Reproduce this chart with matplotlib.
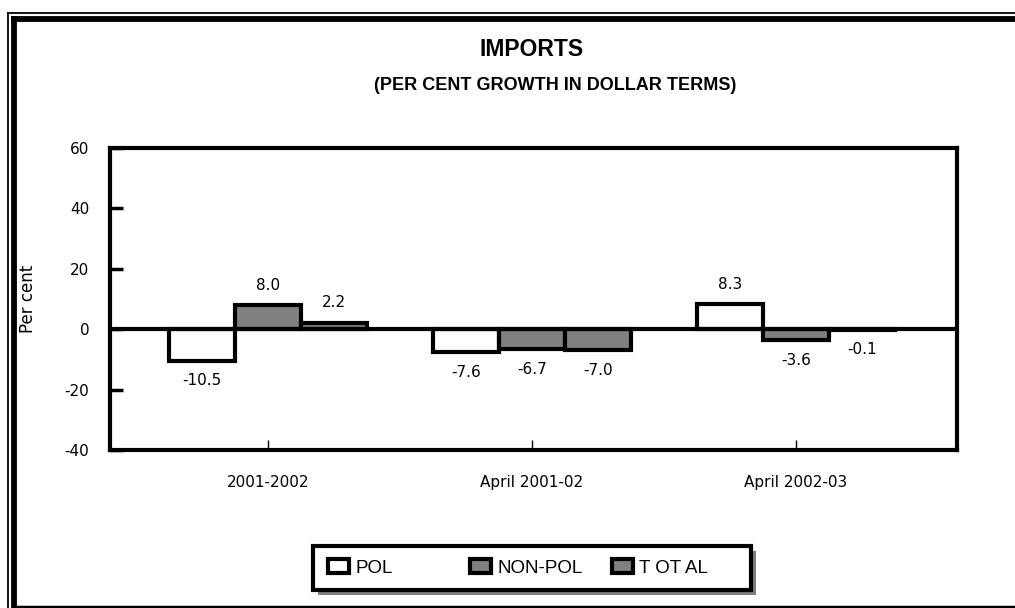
import matplotlib
matplotlib.use("Agg")
import matplotlib.pyplot as plt
from matplotlib.lines import Line2D
from matplotlib.patches import Rectangle, Patch
import numpy as np

categories = ["2001-2002", "April 2001-02", "April 2002-03"]
series_names = ["POL", "NON-POL", "T OT AL"]
pol = [-10.5, -7.6, 8.3]
nonpol = [8.0, -6.7, -3.6]
total = [2.2, -7.0, -0.1]
yticks = [-40, -20, 0, 20, 40, 60]

W, H = 1015, 608
fig = plt.figure(figsize=(W / 100, H / 100), dpi=100)

def fx(px):
    return px / W

def fy(py):
    return 1 - py / H

# outer frame (thin + thick double border)
fig.add_artist(Line2D([fx(7.8), fx(7.8)], [fy(12.8), fy(620)], color="black", lw=1.3, transform=fig.transFigure))
fig.add_artist(Line2D([fx(7.8), fx(1030)], [fy(12.8), fy(12.8)], color="black", lw=1.3, transform=fig.transFigure))
fig.add_artist(Line2D([fx(14), fx(14)], [fy(19), fy(606.5)], color="black", lw=4.2, transform=fig.transFigure, solid_capstyle="projecting"))
fig.add_artist(Line2D([fx(14), fx(1030)], [fy(19), fy(19)], color="black", lw=4.2, transform=fig.transFigure, solid_capstyle="projecting"))
fig.add_artist(Line2D([fx(14), fx(1030)], [fy(606.5), fy(606.5)], color="black", lw=2.5, transform=fig.transFigure))

ax = fig.add_axes([fx(110), fy(450), fx(957) - fx(110), (450 - 148) / H])

x = np.arange(len(categories))
w = 0.25
colors = ["white", "#808080", "#808080"]
data = [pol, nonpol, total]
handles = []
for i, (vals, c, name) in enumerate(zip(data, colors, series_names)):
    bars = ax.bar(x + (i - 1) * w, vals, w, color=c, edgecolor="black", linewidth=3, label=name, zorder=2)
    handles.append(Patch(facecolor=c, edgecolor="black", linewidth=3))
    for b, v in zip(bars, vals):
        xc = b.get_x() + b.get_width() / 2
        if v >= 0:
            ax.annotate(f"{v:.1f}", (xc, v), xytext=(0, 9), textcoords="offset points",
                        ha="center", va="bottom", fontsize=11, family="DejaVu Sans")
        else:
            ax.annotate(f"{v:.1f}", (xc, v), xytext=(0, -9), textcoords="offset points",
                        ha="center", va="top", fontsize=11, family="DejaVu Sans")

ax.axhline(0, color="black", lw=3, zorder=3)
ax.set_ylim(-40, 60)
ax.set_xlim(-0.598, 2.61)
ax.set_yticks(yticks)
ax.set_yticklabels([str(t) for t in yticks], fontsize=11, family="DejaVu Sans")
ax.set_xticks(x)
ax.set_xticklabels(categories, fontsize=11, family="DejaVu Sans")
ax.tick_params(axis="y", direction="in", length=9, width=2.5, pad=15)
ax.tick_params(axis="x", direction="in", length=7, width=1, pad=18)
for s in ax.spines.values():
    s.set_linewidth(3)
ax.set_ylabel("Per cent", fontsize=12, family="DejaVu Sans")
ax.yaxis.set_label_coords(-0.086, 0.5)

fig.text(fx(532), fy(50), "IMPORTS", ha="center", va="center", fontsize=16.5,
         fontweight="bold", family="Liberation Sans")
fig.text(fx(555), fy(86), "(PER CENT GROWTH IN DOLLAR TERMS)", ha="center", va="center",
         fontsize=13, fontweight="bold", family="Liberation Sans")

# legend frame with grey shadow
lx0, ly0, lx1, ly1 = 313, 546, 751, 590
fig.add_artist(Rectangle((fx(lx0 + 5), fy(ly1 + 5)), fx(lx1) - fx(lx0), (ly1 - ly0) / H,
                         transform=fig.transFigure, facecolor="#808080", edgecolor="none", zorder=5))
fig.add_artist(Rectangle((fx(lx0), fy(ly1)), fx(lx1) - fx(lx0), (ly1 - ly0) / H,
                         transform=fig.transFigure, facecolor="white", edgecolor="black", lw=3, zorder=6))
for i, (h, name) in enumerate(zip(handles, series_names)):
    leg = fig.legend(handles=[h], labels=[name], loc="center left",
                     bbox_to_anchor=(fx(328 + 142 * i), fy(568)), frameon=False, borderpad=0,
                     borderaxespad=0, prop={"family": "Liberation Sans", "size": 13.5},
                     handlelength=1.1, handleheight=0.75, handletextpad=0.35)
    leg.set_zorder(7)

fig.savefig("out.png", dpi=100)
